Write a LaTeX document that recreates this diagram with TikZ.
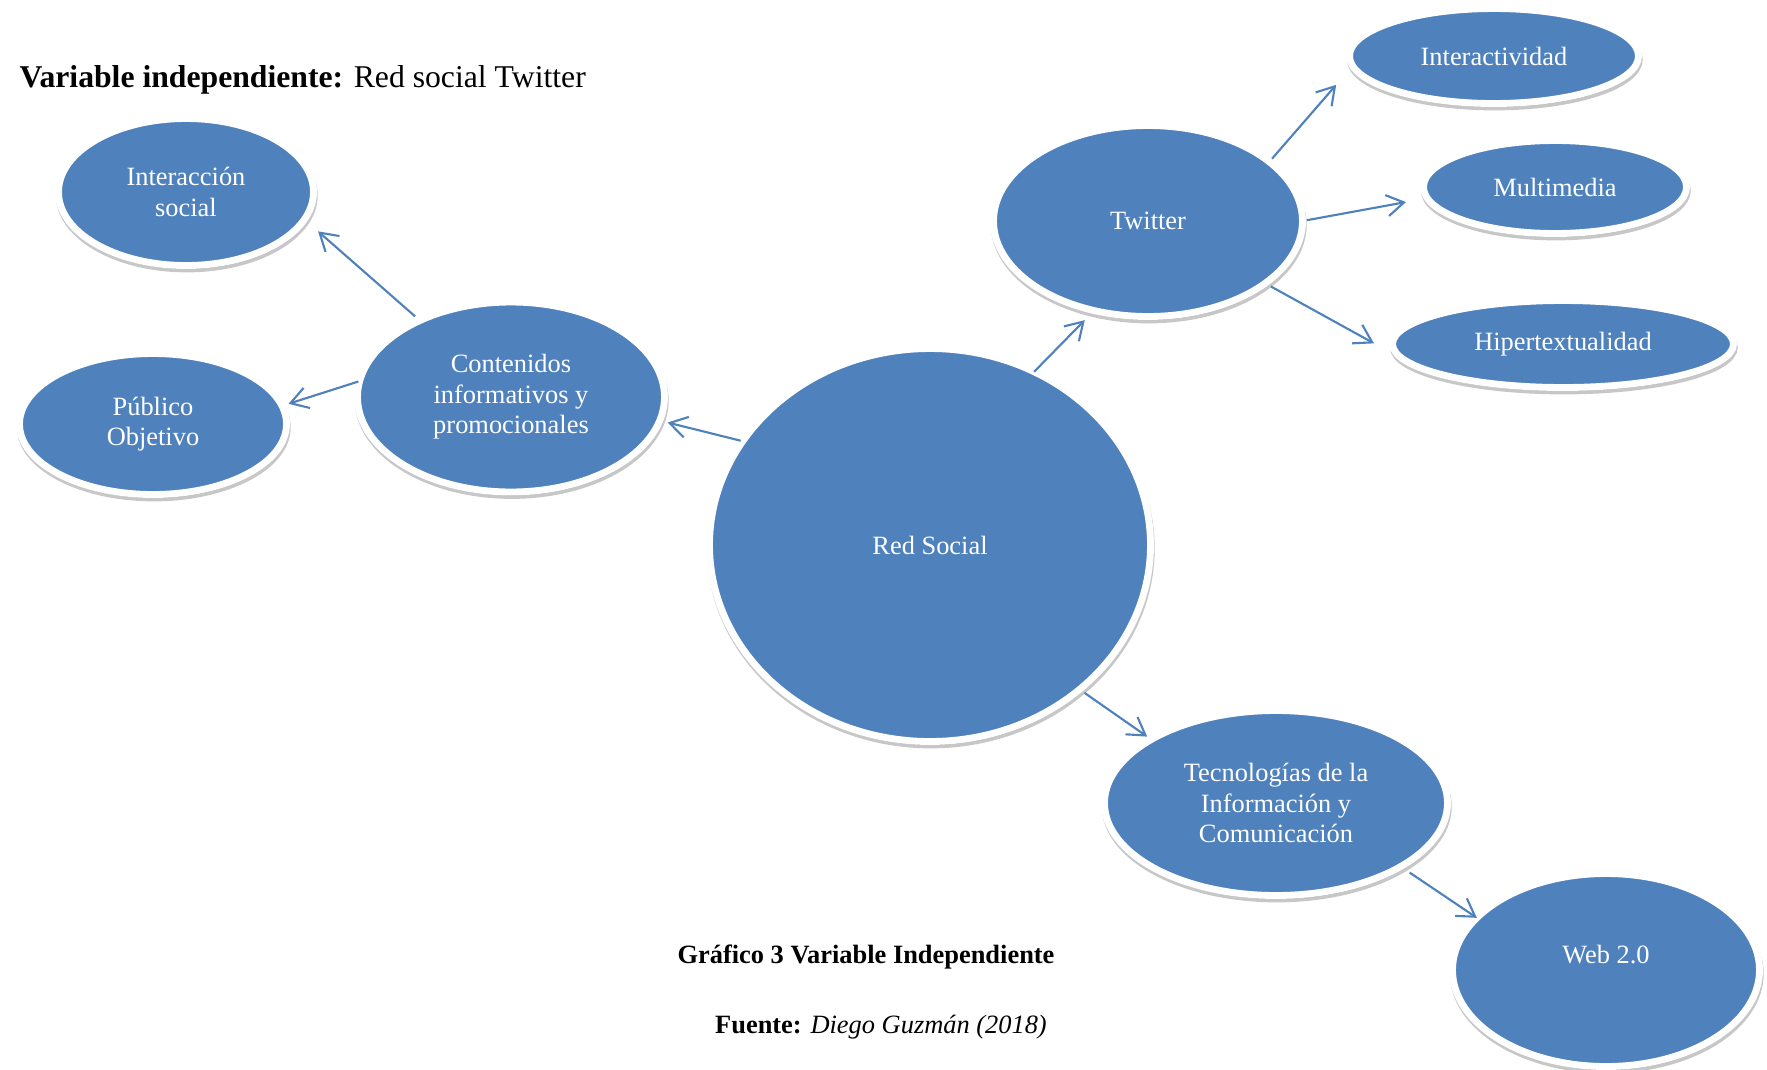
\documentclass[tikz,border=0pt]{standalone}
\usepackage{fontspec}
\setmainfont{Liberation Serif}
\usepackage{tikz}
\usetikzlibrary{shapes.geometric}
\usetikzlibrary{shadows}
\usetikzlibrary{arrows.meta}
\definecolor{bubbleblue}{RGB}{79,129,189}
\newcommand{\pxu}{0.0133cm}

\begin{document}
\begin{tikzpicture}[x=\pxu, y=-\pxu,
        bubble/.style 2 args={ellipse, fill=bubbleblue, draw=white, line width=2.6pt, inner sep=0pt, outer sep=0pt,
            minimum width={(#1+7)*\pxu}, minimum height={(#2+7)*\pxu}, text=white, align=center,
            font=\fontsize{10}{11.5}\selectfont,
            drop shadow={shadow xshift=0.3pt, shadow yshift=-1.3pt, opacity=0.22, fill=black, draw=black, line width=2.6pt}},
        link/.style={draw=bubbleblue, line width=0.8pt, -{Straight Barb[length=6.5pt,width=8pt]}}]
        \useasboundingbox (0,0) rectangle (1767,1070);
        \node[anchor=base west, inner sep=0pt, font=\fontsize{12}{14}\selectfont] (title) at (19,87) {\textbf{Variable independiente:} Red social Twitter};
        %bubbles
        \node[bubble={434}{386}] (red) at (930,545) {Red Social};
        \node[bubble={300}{183}] (cont) at (511,397) {Contenidos\\informativos y\\promocionales};
        \node[bubble={248}{140}] (inter) at (186,192) {Interacción\\social};
        \node[bubble={260}{134}] (publico) at (153,424) {Público\\Objetivo};
        \node[bubble={302}{184}] (twitter) at (1148,221) {Twitter};
        \node[bubble={282}{88}] (interac) at (1494,56) {Interactividad};
        \node[bubble={256}{86}] (multi) at (1555,187) {Multimedia};
        \node[bubble={334}{80}] (hiper) at (1563,344) {Hipertextualidad};
        \node[bubble={336}{178}] (tic) at (1276,803) {Tecnologías de la\\Información y\\Comunicación};
        \node[bubble={300}{186}, text depth=11.5pt] (web) at (1606,970) {Web 2.0};
        %arrows
        \draw[link, shorten <=0.8pt, shorten >=3.1pt] (red.151.8) -- (cont.-9.5);
        \draw[link, shorten >=5.1pt] (red.59.4) -- (twitter.239.2);
        \draw[link, shorten <=2.4pt, shorten >=6.9pt] (cont.140.6) -- (inter.-13.9);
        \draw[link, shorten <=0.5pt, shorten >=2.6pt] (cont.174.6) -- (publico.8.5);
        \draw[link, shorten <=1.6pt, shorten >=9.5pt] (twitter.26.5) -- (interac.184.7);
        \draw[link, shorten <=1.7pt, shorten >=8.2pt] (twitter.0.5) -- (multi.185.1);
        \draw[link, shorten <=2.5pt, shorten >=15.3pt] (twitter.-28.4) -- (hiper.187);
        \draw[link, shorten <=2.3pt, shorten >=1.9pt] (red.-44.9) -- (tic.153.9);
        \draw[link, shorten <=4.1pt] (tic.-27.3) -- (web.158);
        %caption
        \node[anchor=base, inner sep=0pt, font=\fontsize{10}{12}\selectfont\bfseries] (caption) at (866,963) {Gráfico 3 Variable Independiente};
        \node[anchor=base, inner sep=0pt, font=\fontsize{10}{12}\selectfont] (source) at (881,1033) {\textbf{Fuente:} \textit{Diego Guzmán (2018)}};
    \end{tikzpicture}
\end{document}
